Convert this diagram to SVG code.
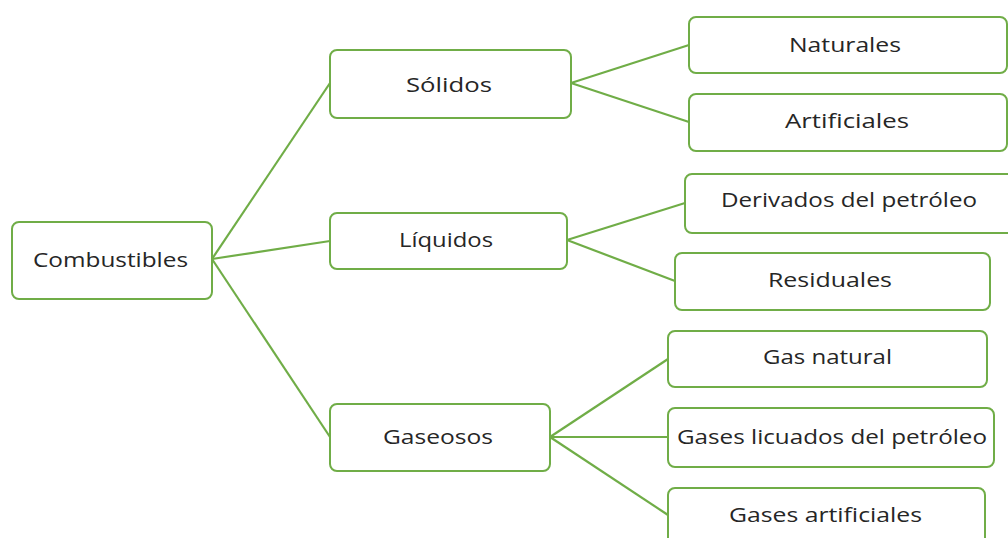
<svg xmlns="http://www.w3.org/2000/svg" width="1008" height="538" viewBox="0 0 1008 538">
<style>
.box{fill:#ffffff;stroke:#70AD47;stroke-width:2}
.lbl{font-family:"Open Sans","Liberation Sans",sans-serif;font-size:20px;fill:#262626;text-anchor:start}
.con{stroke:#70AD47;stroke-width:2.2;fill:none}
</style>
<rect width="1008" height="538" fill="#ffffff"/>
<g id="connectors">
<line class="con" x1="212" y1="259" x2="330" y2="83"/>
<line class="con" x1="212" y1="259" x2="330" y2="241"/>
<line class="con" x1="212" y1="259" x2="330" y2="437"/>
<line class="con" x1="571" y1="83" x2="689" y2="45"/>
<line class="con" x1="571" y1="83" x2="689" y2="122"/>
<line class="con" x1="567" y1="240" x2="685" y2="203"/>
<line class="con" x1="567" y1="240" x2="675" y2="281"/>
<line class="con" x1="550" y1="437" x2="668" y2="359"/>
<line class="con" x1="550" y1="437" x2="668" y2="437"/>
<line class="con" x1="550" y1="437" x2="668" y2="515"/>
</g>
<g id="n-combustibles">
<rect class="box" x="12" y="222" width="200" height="77" rx="7"/>
<text class="lbl" x="33" y="267" textLength="155" lengthAdjust="spacingAndGlyphs">Combustibles</text>
</g>
<g id="n-solidos">
<rect class="box" x="330" y="50" width="241" height="68" rx="7"/>
<text class="lbl" x="406" y="92" textLength="86" lengthAdjust="spacingAndGlyphs">Sólidos</text>
</g>
<g id="n-liquidos">
<rect class="box" x="330" y="213" width="237" height="56" rx="7"/>
<text class="lbl" x="399" y="247" textLength="94" lengthAdjust="spacingAndGlyphs">Líquidos</text>
</g>
<g id="n-gaseosos">
<rect class="box" x="330" y="404" width="220" height="67" rx="7"/>
<text class="lbl" x="383" y="444" textLength="110" lengthAdjust="spacingAndGlyphs">Gaseosos</text>
</g>
<g id="n-naturales">
<rect class="box" x="689" y="17" width="318" height="56" rx="7"/>
<text class="lbl" x="789" y="52" textLength="112" lengthAdjust="spacingAndGlyphs">Naturales</text>
</g>
<g id="n-artificiales">
<rect class="box" x="689" y="94" width="318" height="57" rx="7"/>
<text class="lbl" x="785" y="128" textLength="124" lengthAdjust="spacingAndGlyphs">Artificiales</text>
</g>
<g id="n-derivados">
<rect class="box" x="685" y="174" width="330" height="59" rx="7"/>
<text class="lbl" x="721" y="207" textLength="256" lengthAdjust="spacingAndGlyphs">Derivados del petróleo</text>
</g>
<g id="n-residuales">
<rect class="box" x="675" y="253" width="315" height="57" rx="7"/>
<text class="lbl" x="768" y="287" textLength="124" lengthAdjust="spacingAndGlyphs">Residuales</text>
</g>
<g id="n-gasnatural">
<rect class="box" x="668" y="331" width="319" height="56" rx="7"/>
<text class="lbl" x="763" y="364" textLength="129" lengthAdjust="spacingAndGlyphs">Gas natural</text>
</g>
<g id="n-gaseslicuados">
<rect class="box" x="668" y="408" width="326" height="59" rx="7"/>
<text class="lbl" x="677" y="444" textLength="310" lengthAdjust="spacingAndGlyphs">Gases licuados del petróleo</text>
</g>
<g id="n-gasesartificiales">
<rect class="box" x="668" y="488" width="317" height="60" rx="7"/>
<text class="lbl" x="729" y="522" textLength="193" lengthAdjust="spacingAndGlyphs">Gases artificiales</text>
</g>
</svg>
